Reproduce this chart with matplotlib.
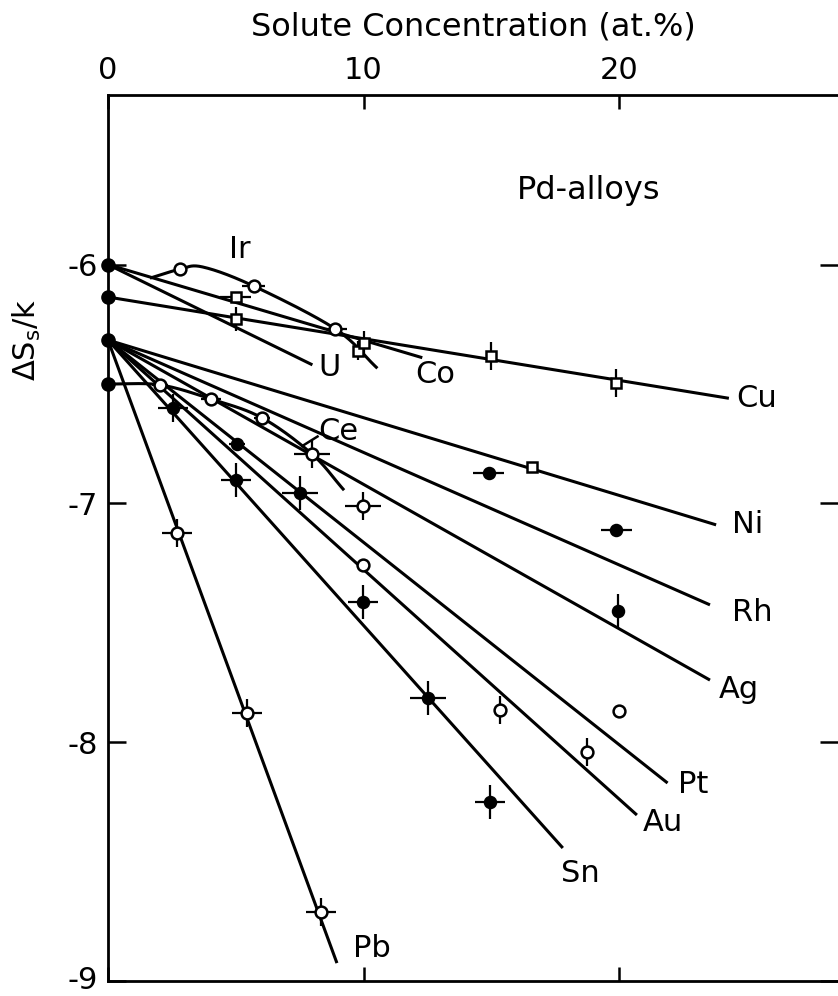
import numpy as np
import matplotlib
matplotlib.use("Agg")
import matplotlib.pyplot as plt
from matplotlib.transforms import ScaledTranslation

plt.rcParams['font.family'] = ['DejaVu Sans']
plt.rcParams['axes.unicode_minus'] = False
plt.rcParams['mathtext.fontset'] = 'dejavusans'

# ---- data -------------------------------------------------------------
# values for pure Pd (0 at.%)
pd_x = [0, 0, 0, 0]
pd_y = [-6.00, -6.136, -6.316, -6.50]

# straight fitted lines: value at 0 at.% and end point of the drawn line
line_names = ['Cu', 'Co', 'U', 'Ni', 'Rh', 'Ag', 'Pt', 'Au', 'Sn', 'Pb']
line_y0 = [-6.136, -6.00, -6.00, -6.316, -6.316, -6.316, -6.316, -6.316, -6.316, -6.316]
line_x_end = [24.3, 12.3, 8.0, 23.8, 23.56, 23.56, 21.9, 20.7, 17.8, 8.96]
line_y_end = [-6.56, -6.39, -6.42, -7.09, -7.425, -7.74, -8.171, -8.305, -8.443, -8.925]

# curved guides for Ir and Ce
ir_curve_x = [1.7, 2.8, 3.7, 5.7, 8.9, 10.5]
ir_curve_y = [-6.055, -6.02, -6.01, -6.09, -6.27, -6.43]
ce_curve_x = [0.0, 2.04, 4.03, 6.03, 7.98, 9.2]
ce_curve_y = [-6.50, -6.504, -6.563, -6.642, -6.793, -6.94]

# measured points (x, y, x-error, y-error)
ir_x = [2.8, 5.7, 8.9]
ir_y = [-6.02, -6.09, -6.27]
ir_xerr = [0.0, 0.45, 0.45]
ir_yerr = [0.0, 0.0, 0.0]

co_x = [5.0, 9.8]
co_y = [-6.136, -6.36]
co_xerr = [0.6, 0.0]
co_yerr = [0.0, 0.04]

cu_x = [5.0, 10.0, 15.0, 19.9]
cu_y = [-6.228, -6.33, -6.383, -6.496]
cu_xerr = [0.0, 0.0, 0.0, 0.0]
cu_yerr = [0.05, 0.05, 0.06, 0.06]

ni_sq_x = [16.6]
ni_sq_y = [-6.848]
ni_x = [14.9, 19.9]
ni_y = [-6.873, -7.11]
ni_xerr = [0.6, 0.6]
ni_yerr = [0.0, 0.0]

ag_x = [19.96]
ag_y = [-7.45]
ag_xerr = [0.0]
ag_yerr = [0.07]

ce_x = [2.04, 4.03, 6.03, 7.98]
ce_y = [-6.504, -6.563, -6.642, -6.793]
ce_xerr = [0.3, 0.4, 0.3, 0.7]
ce_yerr = [0.0, 0.0, 0.0, 0.06]

pt_x = [5.05, 7.51]
pt_y = [-6.751, -6.956]
pt_xerr = [0.3, 0.7]
pt_yerr = [0.0, 0.07]
pt_open_x = [9.98, 20.0]
pt_open_y = [-7.011, -7.869]
pt_open_xerr = [0.7, 0.0]
pt_open_yerr = [0.06, 0.0]

au_x = [9.98, 15.34, 18.75]
au_y = [-7.258, -7.865, -8.041]
au_xerr = [0.0, 0.0, 0.0]
au_yerr = [0.0, 0.06, 0.06]

sn_x = [2.54, 5.01, 9.98, 12.52, 14.95]
sn_y = [-6.60, -6.902, -7.413, -7.815, -8.25]
sn_xerr = [0.6, 0.6, 0.6, 0.7, 0.6]
sn_yerr = [0.06, 0.07, 0.07, 0.07, 0.07]

pb_x = [2.7, 5.44, 8.34]
pb_y = [-7.124, -7.878, -8.711]
pb_xerr = [0.6, 0.6, 0.6]
pb_yerr = [0.06, 0.06, 0.06]

# label placement (data coordinates)
label_text = ['Ir', 'U', 'Co', 'Cu', 'Ce', 'Ni', 'Rh', 'Ag', 'Pt', 'Au', 'Sn', 'Pb']
label_x = [5.17, 8.65, 12.8, 25.4, 9.0, 25.05, 25.2, 24.7, 22.9, 21.7, 18.5, 10.33]
label_y = [-5.939, -6.433, -6.462, -6.562, -6.701, -7.09, -7.455, -7.781, -8.179, -8.338, -8.548, -8.862]


def catmull_rom(xs, ys, n=30):
    pts = np.column_stack([xs, ys]).astype(float)
    pts = np.vstack([2 * pts[0] - pts[1], pts, 2 * pts[-1] - pts[-2]])
    t = np.linspace(0, 1, n)[:, None]
    segs = []
    for i in range(1, len(pts) - 2):
        p0, p1, p2, p3 = pts[i - 1], pts[i], pts[i + 1], pts[i + 2]
        segs.append(0.5 * (2 * p1 + (-p0 + p2) * t
                           + (2 * p0 - 5 * p1 + 4 * p2 - p3) * t ** 2
                           + (-p0 + 3 * p1 - 3 * p2 + p3) * t ** 3))
    c = np.vstack(segs)
    return c[:, 0], c[:, 1]


# ---- figure -----------------------------------------------------------
W, H = 838, 996
fig = plt.figure(figsize=(W / 100, H / 100), dpi=100)
ax = fig.add_axes([108 / W, 15 / H, 730 / W, 886 / H])
ax.set_xlim(0, 28.57)
ax.set_ylim(-9, -5.29)

LW = 2.2
for y0, xe, ye in zip(line_y0, line_x_end, line_y_end):
    ax.plot([0, xe], [y0, ye], color='black', lw=LW, solid_capstyle='butt', zorder=2)

cx, cy = catmull_rom(ir_curve_x, ir_curve_y)
ax.plot(cx, cy, color='black', lw=LW, zorder=2)
cx, cy = catmull_rom(ce_curve_x, ce_curve_y)
ax.plot(cx, cy, color='black', lw=LW, zorder=2)

# leader from the last Ce point to its label
ax.plot([7.6, 8.2], [-6.76, -6.72], color='black', lw=1.8, zorder=2)

open_c = dict(fmt='o', ms=8.5, mfc='white', mec='black', mew=1.8,
              ecolor='black', elinewidth=1.6, capsize=0, zorder=4)
fill_c = dict(fmt='o', ms=8.5, mfc='black', mec='black', mew=1.2,
              ecolor='black', elinewidth=1.6, capsize=0, zorder=4)
open_s = dict(fmt='s', ms=7.5, mfc='white', mec='black', mew=1.8,
              ecolor='black', elinewidth=1.6, capsize=0, zorder=4)

ax.errorbar(ir_x, ir_y, xerr=ir_xerr, yerr=ir_yerr, **open_c)
ax.errorbar(co_x, co_y, xerr=co_xerr, yerr=co_yerr, **open_s)
ax.errorbar(cu_x, cu_y, xerr=cu_xerr, yerr=cu_yerr, **open_s)
ax.errorbar(ni_sq_x, ni_sq_y, **open_s)
ax.errorbar(ni_x, ni_y, xerr=ni_xerr, yerr=ni_yerr, **fill_c)
ax.errorbar(ag_x, ag_y, xerr=ag_xerr, yerr=ag_yerr, **fill_c)
ax.errorbar(ce_x, ce_y, xerr=ce_xerr, yerr=ce_yerr, **open_c)
ax.errorbar(pt_x, pt_y, xerr=pt_xerr, yerr=pt_yerr, **fill_c)
ax.errorbar(pt_open_x, pt_open_y, xerr=pt_open_xerr, yerr=pt_open_yerr, **open_c)
ax.errorbar(au_x, au_y, xerr=au_xerr, yerr=au_yerr, **open_c)
ax.errorbar(sn_x, sn_y, xerr=sn_xerr, yerr=sn_yerr, **fill_c)
ax.errorbar(pb_x, pb_y, xerr=pb_xerr, yerr=pb_yerr, **open_c)
ax.plot(pd_x, pd_y, 'o', ms=9.5, color='black', zorder=5, clip_on=False)

for t, x, y in zip(label_text, label_x, label_y):
    ax.text(x, y, t, fontsize=22, ha='center', va='center', zorder=6)
ax.text(18.8, -5.688, 'Pd-alloys', fontsize=23, ha='center', va='center')

# axes styling
for side in ('left', 'top', 'bottom'):
    ax.spines[side].set_linewidth(2.0)
ax.spines['right'].set_visible(False)

ax.xaxis.tick_top()
ax.xaxis.set_label_position('top')
ax.set_xticks([0, 10, 20])
ax.set_xticklabels(['0', '10', '20'])
ax.tick_params(axis='x', which='both', direction='in', top=True, bottom=True,
               length=10, width=1.8, labelsize=22, pad=7)
ax.set_yticks([-9, -8, -7, -6])
ax.set_yticklabels(['-9', '-8', '-7', '-6'])
ax.tick_params(axis='y', direction='in', left=True, right=True,
               length=13, width=1.8, labelsize=22, pad=7)
for lbl in ax.get_yticklabels():
    lbl.set_verticalalignment('center_baseline')
# keep the lowest tick label inside the figure
bottom_lbl = ax.get_yticklabels()[0]
bottom_lbl.set_transform(bottom_lbl.get_transform()
                         + ScaledTranslation(0, 4 / 100, fig.dpi_scale_trans))

ax.set_xlabel('Solute Concentration (at.%)', fontsize=23, labelpad=15)
ax.set_ylabel(r'$\mathit{\Delta}\mathrm{S_s}$/k', fontsize=22)
ax.yaxis.set_label_coords(-0.089, 0.7235)

fig.savefig('out.png', dpi=100)
